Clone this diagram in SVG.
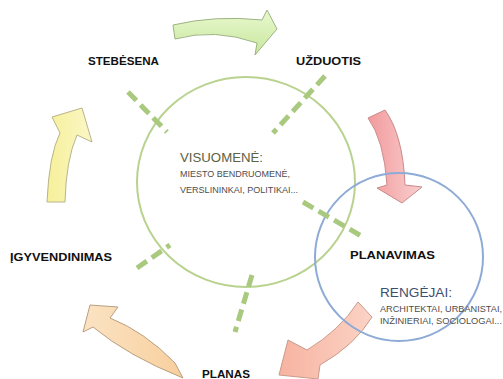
<svg xmlns="http://www.w3.org/2000/svg" width="503" height="379" viewBox="0 0 503 379">
<style>
.lbl{font-family:"Liberation Sans",Arial,sans-serif;font-weight:bold;font-size:11px;fill:#111}
.head{font-family:"Liberation Sans",Arial,sans-serif;font-size:13px}
.sub{font-family:"Liberation Sans",Arial,sans-serif;font-size:9px;fill:#4d4d4d}
.arr{stroke-width:1;stroke-linejoin:round}
.dash{stroke:#a9c97f;stroke-width:5;stroke-dasharray:12 6;fill:none}
</style>
<defs>
<linearGradient id="gG" x1="0" y1="0" x2="0" y2="1"><stop offset="0" stop-color="#eaf8d0"/><stop offset="1" stop-color="#c6e79c"/></linearGradient>
<linearGradient id="gR" x1="0" y1="0" x2="1" y2="0"><stop offset="0" stop-color="#f29a9c"/><stop offset="1" stop-color="#f9cfcf"/></linearGradient>
<linearGradient id="gS" x1="0" y1="0" x2="1" y2="0"><stop offset="0" stop-color="#f7b3a0"/><stop offset="1" stop-color="#fbd3c6"/></linearGradient>
<linearGradient id="gP" x1="0" y1="0" x2="1" y2="0"><stop offset="0" stop-color="#fbe3c3"/><stop offset="1" stop-color="#f8cf9e"/></linearGradient>
<linearGradient id="gY" x1="0" y1="0" x2="1" y2="0"><stop offset="0" stop-color="#f6f09a"/><stop offset="1" stop-color="#fbf7c6"/></linearGradient>
</defs>
<rect width="503" height="379" fill="#fff"/>
<g id="connectors">
<path class="arr" fill="url(#gG)" stroke="#9cb482" d="M173,25 Q215,15 262,20 L267,10 L277,29 L255,55 L257,43 Q215,28 175,39 Z"/>
<path class="arr" fill="url(#gR)" stroke="#c98a8a" d="M368,118 Q384,140 387,185 L377,188 L402,203 L422,187 L405,185 Q403,135 385,110 Z"/>
<path class="arr" fill="url(#gS)" stroke="#c99a8a" d="M358,302 Q340,330 307,350 L288,340 L279,375 L318,379 L320,365 Q355,345 372,317 Z"/>
<path class="arr" fill="url(#gP)" stroke="#b8a080" d="M175,363 Q145,332 110,318 L118,307 L90,305 L83,332 L93,327 Q128,356 183,378 Z"/>
<path class="arr" fill="url(#gY)" stroke="#b8b48a" d="M47,202 Q49,155 60,133 L52,117 L82,108 L92,142 L77,135 Q66,160 65,202 Z"/>
</g>
<g id="circle-visuomene">
<ellipse cx="246" cy="182" rx="109" ry="105" fill="none" stroke="#b9d28f" stroke-width="2"/>
</g>
<g id="circle-rengejai">
<circle cx="399" cy="257" r="84" fill="none" stroke="#8eaad6" stroke-width="2"/>
</g>
<g id="dashes">
<line class="dash" x1="128" y1="92" x2="167" y2="132"/>
<line class="dash" x1="325" y1="76" x2="273" y2="133"/>
<line class="dash" x1="303" y1="202" x2="363" y2="237"/>
<line class="dash" x1="137" y1="268" x2="170" y2="245"/>
<line class="dash" x1="252" y1="275" x2="235" y2="332"/>
</g>
<g id="node-stebesena"><text class="lbl" x="88" y="65" textLength="71" lengthAdjust="spacingAndGlyphs">STEBĖSENA</text></g>
<g id="node-uzduotis"><text class="lbl" x="296" y="65" textLength="65" lengthAdjust="spacingAndGlyphs">UŽDUOTIS</text></g>
<g id="node-planavimas"><text class="lbl" x="350" y="259" textLength="85" lengthAdjust="spacingAndGlyphs">PLANAVIMAS</text></g>
<g id="node-planas"><text class="lbl" x="202" y="378" textLength="48" lengthAdjust="spacingAndGlyphs">PLANAS</text></g>
<g id="node-igyvendinimas"><text class="lbl" x="10" y="261" textLength="102" lengthAdjust="spacingAndGlyphs">ĮGYVENDINIMAS</text></g>
<g id="node-visuomene">
<text class="head" x="180" y="162" fill="#5c6142" textLength="83" lengthAdjust="spacingAndGlyphs">VISUOMENĖ:</text>
<text class="sub" x="180" y="177" textLength="110" lengthAdjust="spacingAndGlyphs">MIESTO BENDRUOMENĖ,</text>
<text class="sub" x="180" y="193" textLength="118" lengthAdjust="spacingAndGlyphs">VERSLININKAI, POLITIKAI...</text>
</g>
<g id="node-rengejai">
<text class="head" x="380" y="297" fill="#3e4f6e" textLength="72" lengthAdjust="spacingAndGlyphs">RENGĖJAI:</text>
<text class="sub" x="380" y="312" textLength="122" lengthAdjust="spacingAndGlyphs">ARCHITEKTAI, URBANISTAI,</text>
<text class="sub" x="380" y="324" textLength="122" lengthAdjust="spacingAndGlyphs">INŽINIERIAI, SOCIOLOGAI...</text>
</g>
</svg>
